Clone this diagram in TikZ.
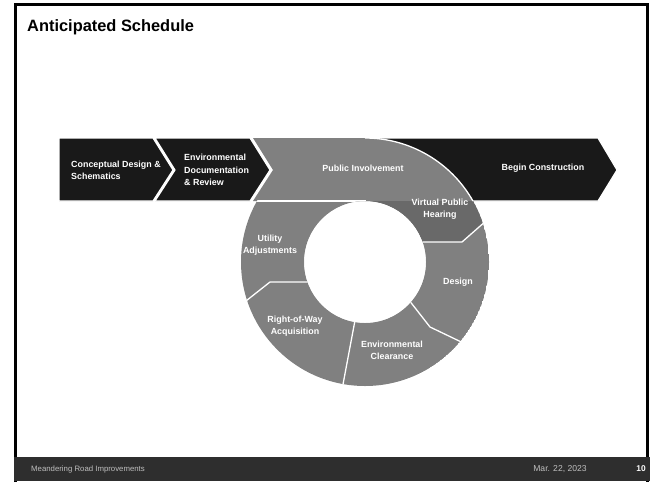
\documentclass[tikz,border=0pt]{standalone}
\usepackage{fontspec}
\setmainfont{Liberation Sans}
\usetikzlibrary{positioning}
\definecolor{bandblack}{gray}{0.1}
\definecolor{ringgray}{gray}{0.5}
\definecolor{ringdark}{gray}{0.41}
\tikzset{
  x=1pt, y=-1pt, semithick,
  chevron/.style={fill=bandblack, draw=white, line width=1.2pt},
  lbl/.style={text=white, font=\bfseries\fontsize{8.9}{12.3}\selectfont, inner sep=0pt},
  seg/.style={fill=ringgray},
  sep/.style={draw=white, line width=1.3pt}
}

\begin{document}
\begin{tikzpicture}
  \useasboundingbox (0,0) rectangle (655,482);
  \coordinate (c) at (365,262);

  % frame and footer
  \draw[line width=3pt] (15.5,482) -- (15.5,4) -- (647,4) -- (647,482);
  \fill[black!82] (14,457) rectangle (650,481);
  \node[anchor=base west, font=\bfseries\fontsize{16.4}{18}\selectfont, inner sep=0pt] (title) at (27,31) {Anticipated Schedule};

  % black bands
  \draw[chevron] (340,138) -- (598,138) -- (617,170) -- (598,201) -- (340,201) -- cycle;
  \draw[chevron] (59,138) -- (153,138) -- (173,170) -- (153,201) -- (59,201) -- cycle;
  \draw[chevron] (155,138) -- (250,138) -- (270,170) -- (250,201) -- (155,201) -- (175,170) -- cycle;

  % gray band and ring
  \fill[seg] (253,138) -- (366,138) -- (366,201) -- (253,201) -- (273,170) -- cycle;
  \begin{scope}[even odd rule]
    \clip (c) circle[radius=124] (c) circle[radius=61];
    \fill[seg] (c) circle[radius=124];
    \fill[ringdark] (365,201) -- (505,201) -- (505,205) -- (462,242) -- (415,242) -- cycle;
    \draw[sep] (253,201) -- (366,201);
    \draw[sep] (415,242) -- (462,242) -- (495,213);
    \draw[sep] (405,295) -- (430,327) -- (478,350);
    \draw[sep] (356,315) -- (341,395);
    \draw[sep] (312,282) -- (270,282) -- (232,312);
  \end{scope}
  \draw[sep] (365,138) arc[start angle=-90, end angle=-29.5, radius=124];
  \fill[white] (c) circle[radius=60.5];

  % labels
  \node[lbl, align=left, anchor=west] (concept) at (71,170) {Conceptual Design \&\\Schematics};
  \node[lbl, align=left, anchor=west] (envdoc) at (184,170) {Environmental\\Documentation\\\& Review};
  \node[lbl] (pubinv) at (363,168) {Public Involvement};
  \node[lbl] (begin) at (543,168) {Begin Construction};
  \node[lbl, align=center] (vph) at (440,209) {Virtual Public\\Hearing};
  \node[lbl, align=center] (utility) at (270,245) {Utility\\Adjustments};
  \node[lbl] (design) at (458,282) {Design};
  \node[lbl, align=center] (envclear) at (392,350) {Environmental\\Clearance};
  \node[lbl, align=center] (row) at (295,326) {Right-of-Way\\Acquisition};

  % footer texts
  \node[anchor=west, text=black!25, font=\fontsize{7.8}{9}\selectfont, inner sep=0pt] (foot) at (31,469) {Meandering Road Improvements};
  \node[text=black!25, font=\fontsize{8.6}{9}\selectfont, inner sep=0pt] (date) at (560,469) {Mar. 22, 2023};
  \node[text=white, font=\bfseries\fontsize{8.4}{9}\selectfont, inner sep=0pt] (pagenum) at (641,469) {10};
\end{tikzpicture}
\end{document}
